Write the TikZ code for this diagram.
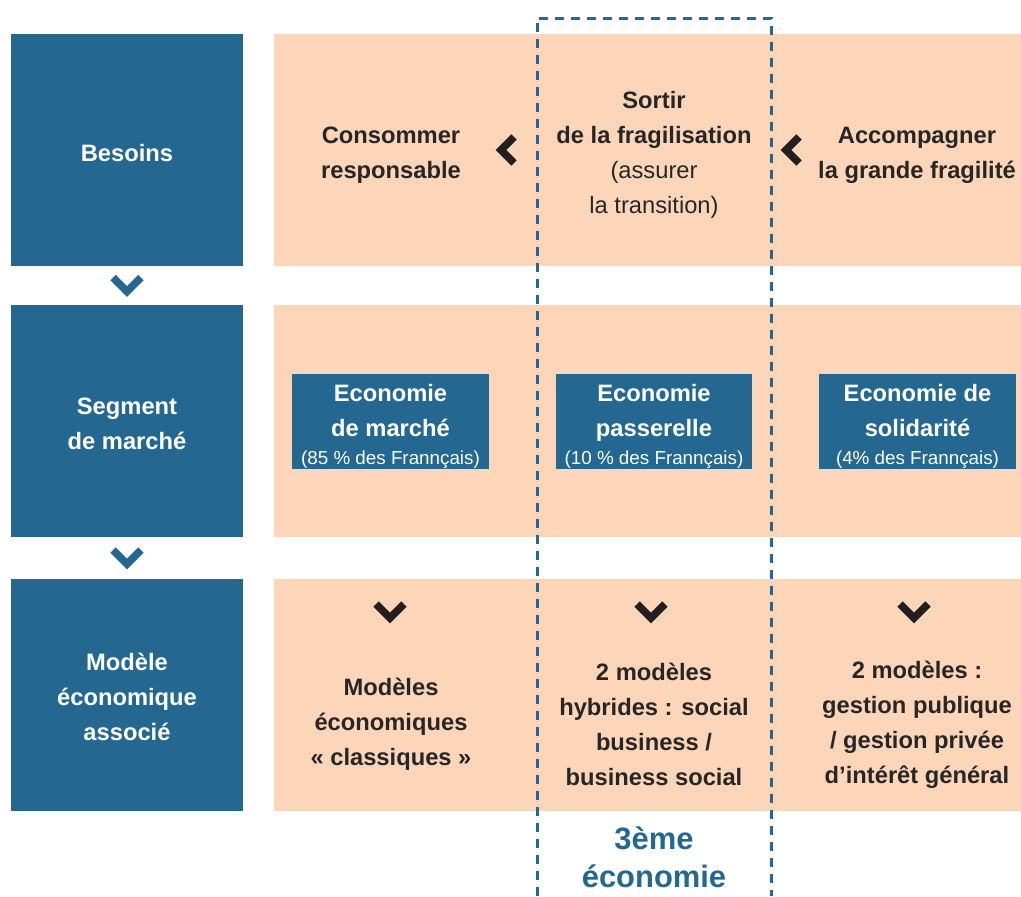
\documentclass[tikz,border=0pt]{standalone}
\usepackage{fontspec}
\setmainfont{Liberation Sans}
\usetikzlibrary{positioning,calc}

\definecolor{rowblue}{RGB}{36,104,146}
\definecolor{rowpeach}{RGB}{253,214,185}
\definecolor{markdark}{RGB}{35,31,32}

\newcommand{\bigbold}{\fontsize{13.5}{19.9}\selectfont\bfseries}
\newcommand{\smallreg}{\fontsize{10.7}{13}\selectfont\mdseries}

\begin{document}
\begin{tikzpicture}[x=0.02cm,y=-0.02cm,
    headbox/.style={fill=rowblue,minimum width=4.64cm,minimum height=4.64cm,inner sep=0pt},
    bandbox/.style={fill=rowpeach,minimum width=14.94cm,minimum height=4.64cm,inner sep=0pt},
    segbox/.style={fill=rowblue,minimum width=3.94cm,minimum height=1.9cm,inner sep=0pt},
    whitetext/.style={text=white,font=\bigbold,align=center,inner sep=0pt},
    bandtext/.style={text=black!85,font=\bigbold,align=center,inner sep=0pt},
    downmark/.style={line width=0.15cm,line join=miter,line cap=butt},
    leftmark/.style={line width=0.15cm,line join=miter,line cap=butt,markdark},
    thirdeco/.style={rowblue,line width=0.06cm,dash pattern=on 0.18cm off 0.14cm}]

    \useasboundingbox (0,0) rectangle (1021,896);

    % Left column
    \node[headbox] (besoins) at (127,150) {};
    \node[headbox] (segment) at (127,421) {};
    \node[headbox] (modele) at (127,695) {};
    \node[whitetext] at ($(besoins)+(0,3)$) {Besoins};
    \node[whitetext] at ($(segment)+(0,3)$) {Segment\\de march\'e};
    \node[whitetext] at ($(modele)+(0,2)$) {Mod\`ele\\\'economique\\associ\'e};

    \draw[downmark,rowblue] ($(besoins.south)!0.5!(segment.north)$) ++(-14,-8) -- ++(14,14) -- ++(14,-14);
    \draw[downmark,rowblue] ($(segment.south)!0.5!(modele.north)$) ++(-14,-8) -- ++(14,14) -- ++(14,-14);

    % Bands
    \node[bandbox] (bandone) at (647.5,150) {};
    \node[bandbox] (bandtwo) at (647.5,421) {};
    \node[bandbox] (bandthree) at (647.5,695) {};

    % 3eme economie frame
    \draw[thirdeco] (537,896) -- (537,18) -- (771,18) -- (771,896);
    \node[text=rowblue,font=\fontsize{17.6}{21.6}\selectfont\bfseries,align=center] (troisieme)
        at (654,857) {3\`eme\\\'economie};

    % Needs
    \node[bandtext] (consommer) at (391,155) {Consommer\\responsable};
    \node[bandtext] (sortir) at (654,155) {Sortir\\de la fragilisation\\\textmd{(assurer}\\\textmd{la transition)}};
    \node[bandtext] (accompagner) at (917,155) {Accompagner\\la grande fragilit\'e};
    \draw[leftmark] (514,137) -- ++(-13,13) -- ++(13,13);
    \draw[leftmark] (799,137) -- ++(-13,13) -- ++(13,13);

    % Segments
    \node[segbox] (marche) at (390.5,421.5) {};
    \node[segbox] (passerelle) at (654,421.5) {};
    \node[segbox] (solidarite) at (917.5,421.5) {};
    \node[whitetext] at ($(marche)+(0,5)$) {Economie\\de march\'e\\[-4pt]{\smallreg (85~\% des Frann\c{c}ais)}};
    \node[whitetext] at ($(passerelle)+(0,5)$) {Economie\\passerelle\\[-4pt]{\smallreg (10~\% des Frann\c{c}ais)}};
    \node[whitetext] at ($(solidarite)+(0,5)$) {Economie de\\solidarit\'e\\[-4pt]{\smallreg (4\% des Frann\c{c}ais)}};

    % Models
    \draw[downmark,markdark] (390,612) ++(-14,-8) -- ++(14,14) -- ++(14,-14);
    \draw[downmark,markdark] (651,612) ++(-14,-8) -- ++(14,14) -- ++(14,-14);
    \draw[downmark,markdark] (914,612) ++(-14,-8) -- ++(14,14) -- ++(14,-14);
    \node[bandtext] (classiques) at (391,724) {Mod\`eles\\\'economiques\\\guillemotleft~classiques~\guillemotright};
    \node[bandtext] (hybrides) at (654,724) {2 mod\`eles\\hybrides : social\\business /\\business social};
    \node[bandtext] (gestion) at (917,725) {2 mod\`eles :\\gestion publique\\/ gestion priv\'ee\\d’int\'er\^et g\'en\'eral};
\end{tikzpicture}
\end{document}
